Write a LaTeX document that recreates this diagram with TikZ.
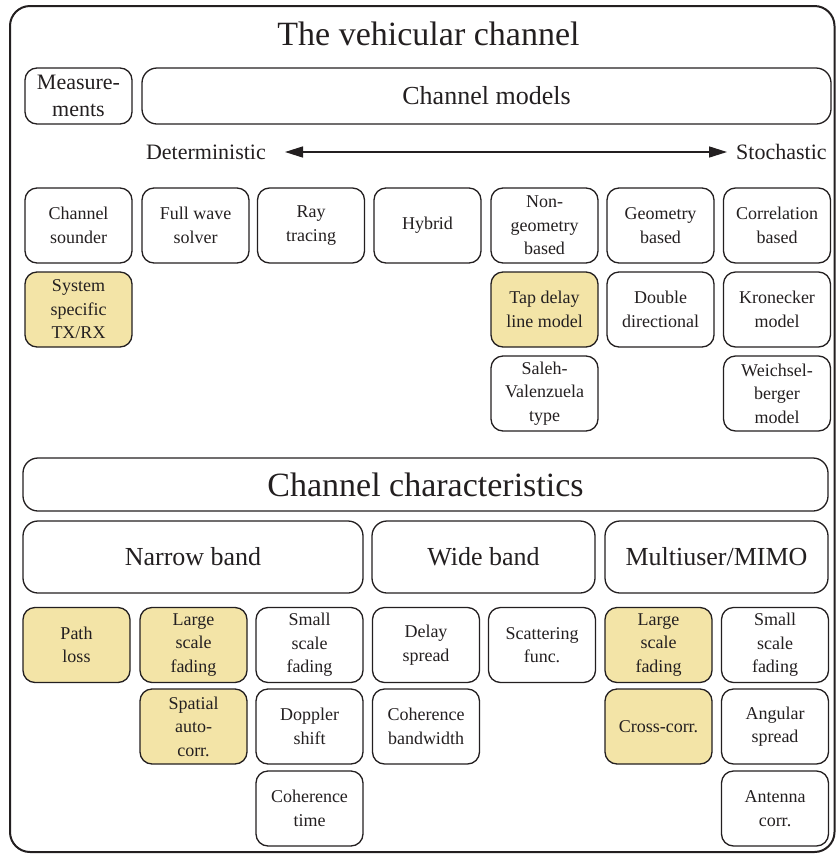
\documentclass[tikz,border=0pt]{standalone}
\usepackage{fontspec}
\setmainfont{Liberation Serif}
\usetikzlibrary{arrows.meta}
\definecolor{hl}{RGB}{243,228,167}
\definecolor{ink}{RGB}{35,31,32}
\begin{document}
\begin{tikzpicture}[x=1pt,y=-1pt,
 box/.style={draw=ink, line width=1.3pt, rounded corners=12pt, minimum width=107pt, minimum height=75pt, inner sep=0pt, align=center, text=ink, font=\fontsize{18}{23.5}\selectfont},
 hbox/.style={box, fill=hl},
 wide/.style={draw=ink, line width=1.3pt, rounded corners=15pt, inner sep=0pt, text=ink, font=\fontsize{26}{30}\selectfont},
 lbl/.style={text=ink, inner sep=0pt, font=\fontsize{22}{26}\selectfont}]
\useasboundingbox (0,0) rectangle (836,855);
\draw[ink, line width=2pt, rounded corners=20pt] (10,6) rectangle (834.5,852);
% title
\node[text=ink, inner sep=0pt, anchor=base, font=\fontsize{34}{40}\selectfont] (title) at (428.5,45) {The vehicular channel};
% top row
\node[box, minimum width=107pt, minimum height=56pt, font=\fontsize{22}{27}\selectfont] (meas) at (78.5,96) {Measure-\\ments};
\node[wide, minimum width=689pt, minimum height=56pt] (models) at (486.5,96) {Channel models};
% arrow
\node[lbl, anchor=east] (det) at (266,152) {Deterministic};
\node[lbl, anchor=west] (sto) at (736,152) {Stochastic};
\draw[ink, line width=1.5pt, {Triangle[length=18pt,width=11pt]}-{Triangle[length=18pt,width=11pt]}, shorten <=19pt, shorten >=9pt] (det) -- (sto);
% model boxes
\node[box] (sounder) at (78.5,225.5) {Channel\\sounder};
\node[box] (fullwave) at (195.5,225.5) {Full wave\\solver};
\node[box] (ray) at (311,225.5) {Ray\\tracing};
\node[box] (hybrid) at (427.5,225.5) {Hybrid};
\node[box] (nongeo) at (544.5,225.5) {Non-\\geometry\\based};
\node[box] (geo) at (660.5,225.5) {Geometry\\based};
\node[box] (corr) at (777,225.5) {Correlation\\based};
\node[hbox] (sys) at (78.5,309.5) {System\\specific\\TX/RX};
\node[hbox] (tap) at (544.5,309.5) {Tap delay\\line model};
\node[box] (dd) at (660.5,309.5) {Double\\directional};
\node[box] (kron) at (777,309.5) {Kronecker\\model};
\node[box] (saleh) at (544.5,393.5) {Saleh-\\Valenzuela\\type};
\node[box] (weich) at (777,393.5) {Weichsel-\\berger\\model};
% characteristics
\node[wide, minimum width=805pt, minimum height=53pt, font=\fontsize{34}{40}\selectfont] (chars) at (425.5,484.5) {Channel characteristics};
\node[wide, minimum width=340pt, minimum height=72pt] (narrow) at (193,557) {Narrow band};
\node[wide, minimum width=223pt, minimum height=72pt] (wideb) at (483.5,557) {Wide band};
\node[wide, minimum width=223pt, minimum height=72pt] (mimo) at (716.5,557) {Multiuser/MIMO};
% characteristic boxes
\node[hbox] (pl) at (76.5,645) {Path\\loss};
\node[hbox] (lsf) at (193.5,645) {Large\\scale\\fading};
\node[box] (ssf) at (309.5,645) {Small\\scale\\fading};
\node[box] (ds) at (426,645) {Delay\\spread};
\node[box] (sf) at (542,645) {Scattering\\func.};
\node[hbox] (lsf2) at (658.5,645) {Large\\scale\\fading};
\node[box] (ssf2) at (775,645) {Small\\scale\\fading};
\node[hbox] (sac) at (193.5,726.5) {Spatial\\auto-\\corr.};
\node[box] (dop) at (309.5,726.5) {Doppler\\shift};
\node[box] (cb) at (426,726.5) {Coherence\\bandwidth};
\node[hbox] (cc) at (658.5,726.5) {Cross-corr.};
\node[box] (as) at (775,726.5) {Angular\\spread};
\node[box] (ct) at (309.5,808.5) {Coherence\\time};
\node[box] (ac) at (775,808.5) {Antenna\\corr.};
\end{tikzpicture}
\end{document}
